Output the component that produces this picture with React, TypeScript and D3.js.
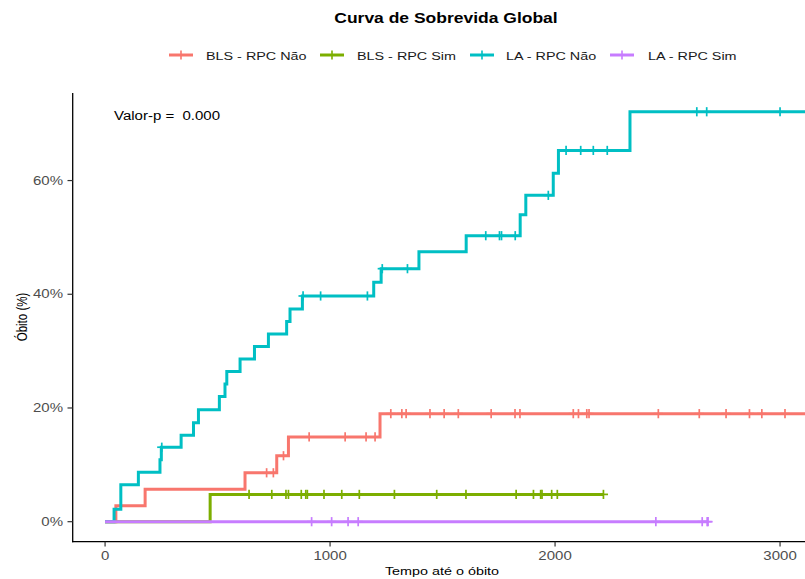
import React from "react";
import * as d3 from "d3";

// ---- data ----
const seriesNames = ["BLS - RPC Não", "BLS - RPC Sim", "LA - RPC Não", "LA - RPC Sim"];
const seriesColors = ["#F8766D", "#7CAE00", "#00BFC4", "#C77CFF"];

// event times (days) and cumulative death % after each event
const blsNaoTimes = [0, 48, 178, 622, 763, 815, 1222];
const blsNaoPct = [0, 2.8, 5.7, 8.6, 11.6, 14.9, 19.0];
const blsNaoEnd = 3130;
const blsNaoCensor = [718, 748, 793, 907, 1067, 1160, 1200, 1270, 1319, 1338, 1444, 1507, 1570, 1716, 1822, 1844, 2081, 2104, 2141, 2151, 2459, 2641, 2760, 2864, 2919, 3022];

const blsSimTimes = [0, 467];
const blsSimPct = [0, 4.8];
const blsSimEnd = 2215;
const blsSimCensor = [640, 741, 804, 815, 872, 892, 899, 973, 1052, 1130, 1286, 1474, 1604, 1827, 1904, 1936, 1942, 1985, 2010, 2215];

const laNaoTimes = [0, 40, 70, 148, 244, 250, 338, 393, 415, 508, 533, 541, 600, 664, 726, 807, 822, 877, 1194, 1227, 1395, 1605, 1845, 1870, 1992, 2015, 2333];
const laNaoPct = [0, 2.2, 6.5, 8.7, 10.9, 13.1, 15.2, 17.4, 19.7, 22.0, 24.2, 26.4, 28.6, 30.8, 33.0, 35.2, 37.4, 39.7, 42.1, 44.5, 47.5, 50.3, 54.0, 57.4, 61.3, 65.3, 72.1];
const laNaoEnd = 3130;
const laNaoCensor = [252, 880, 958, 1166, 1232, 1344, 1692, 1753, 1762, 1823, 1970, 2049, 2114, 2170, 2232, 2630, 2674, 3000];

const laSimTimes = [0];
const laSimPct = [0];
const laSimEnd = 2680;
const laSimCensor = [918, 1007, 1080, 1125, 2448, 2654, 2676, 2680];

const xTicks = [0, 1000, 2000, 3000];
const yTicks = [0, 20, 40, 60];
const titleText = "Curva de Sobrevida Global";
const xLabel = "Tempo até o óbito";
const yLabel = "Óbito (%)";
const pText = "Valor-p =\u00A0\u00A00.000";

const FONT = "'Liberation Sans', Arial, Helvetica, sans-serif";
const SX = 1.25;

type Series = { times: number[]; pct: number[]; end: number; censor: number[] };
const series: Series[] = [
  { times: blsNaoTimes, pct: blsNaoPct, end: blsNaoEnd, censor: blsNaoCensor },
  { times: blsSimTimes, pct: blsSimPct, end: blsSimEnd, censor: blsSimCensor },
  { times: laNaoTimes, pct: laNaoPct, end: laNaoEnd, censor: laNaoCensor },
  { times: laSimTimes, pct: laSimPct, end: laSimEnd, censor: laSimCensor },
];

function valueAt(s: Series, t: number) {
  let v = 0;
  for (let i = 0; i < s.times.length; i++) if (s.times[i] <= t) v = s.pct[i];
  return v;
}

const T = ({ x, y, size, anchor = "start", weight = "normal", fill = "#1a1a1a", children, rotate = false }: any) => (
  <text
    transform={rotate ? `translate(${x},${y}) rotate(-90) scale(1,${SX})` : `translate(${x},${y}) scale(${SX},1)`}
    fontFamily={FONT}
    fontSize={size}
    fontWeight={weight}
    textAnchor={anchor}
    fill={fill}
  >
    {children}
  </text>
);

export default function App() {
  const W = 805, H = 579;
  const x = d3.scaleLinear().domain([-147, 3142]).range([72, 812]);
  const y = d3.scaleLinear().domain([-3.52, 75.4]).range([541.7, 93]);
  const line = d3.line<[number, number]>().x((d) => x(d[0])).y((d) => y(d[1])).curve(d3.curveStepAfter);

  const legendItems = [
    { gx: 169, tx: 206 },
    { gx: 320, tx: 357 },
    { gx: 470, tx: 506 },
    { gx: 610, tx: 648 },
  ];

  return (
    <svg width={W} height={H} style={{ position: "absolute", left: 0, top: 0, background: "#fff" }}>
      <rect width={W} height={H} fill="#fff" />
      {/* title */}
      <T x={446} y={23} size={14} anchor="middle" weight="bold" fill="#000">{titleText}</T>
      {/* legend */}
      {legendItems.map((li, i) => (
        <g key={i}>
          <line x1={li.gx} x2={li.gx + 24} y1={55} y2={55} stroke={seriesColors[i]} strokeWidth={3} />
          <line x1={li.gx + 12} x2={li.gx + 12} y1={50.5} y2={59.5} stroke={seriesColors[i]} strokeWidth={1.6} />
          <T x={li.tx} y={59.5} size={11.5} fill="#1a1a1a">{seriesNames[i]}</T>
        </g>
      ))}
      {/* axes */}
      <line x1={72.7} x2={72.7} y1={93} y2={542.3} stroke="#000" strokeWidth={1.3} />
      <line x1={72} x2={812} y1={541.7} y2={541.7} stroke="#000" strokeWidth={1.3} />
      {yTicks.map((t) => (
        <g key={t}>
          <line x1={67.5} x2={72.7} y1={y(t)} y2={y(t)} stroke="#333" strokeWidth={1.2} />
          <T x={63} y={y(t) + 4.2} size={12} anchor="end" fill="#4d4d4d">{`${t}%`}</T>
        </g>
      ))}
      {xTicks.map((t) => (
        <g key={t}>
          <line x1={x(t)} x2={x(t)} y1={541.7} y2={546.5} stroke="#333" strokeWidth={1.2} />
          <T x={x(t)} y={559.5} size={12} anchor="middle" fill="#4d4d4d">{String(t)}</T>
        </g>
      ))}
      <T x={442} y={575} size={11.5} anchor="middle" fill="#000">{xLabel}</T>
      <T x={27} y={317} size={11.5} anchor="middle" fill="#000" rotate>{yLabel}</T>
      {/* p-value */}
      <T x={114} y={120} size={12} fill="#000">{pText}</T>
      {/* curves */}
      {series.map((s, i) => {
        const pts: [number, number][] = s.times.map((t, k) => [t, s.pct[k]] as [number, number]);
        pts.push([s.end, s.pct[s.pct.length - 1]]);
        return (
          <g key={i}>
            <path d={line(pts) || ""} fill="none" stroke={seriesColors[i]} strokeWidth={3} />
            {s.censor.map((c, k) => {
              const cx = x(c), cy = y(valueAt(s, c));
              return (
                <g key={k}>
                  <line x1={cx} x2={cx} y1={cy - 4.6} y2={cy + 4.6} stroke={seriesColors[i]} strokeWidth={1.7} />
                  <line x1={cx - 4.6} x2={cx + 4.6} y1={cy} y2={cy} stroke={seriesColors[i]} strokeWidth={1.7} />
                </g>
              );
            })}
          </g>
        );
      })}
    </svg>
  );
}
